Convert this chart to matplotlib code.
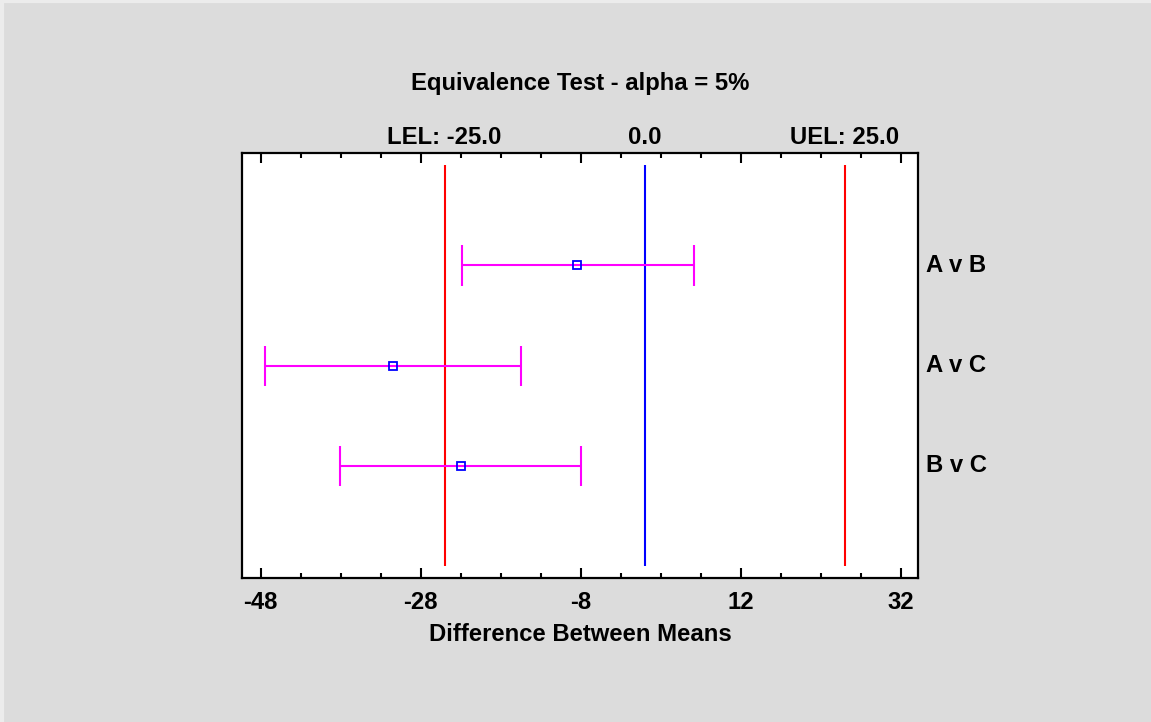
import matplotlib
matplotlib.use("Agg")
import matplotlib.pyplot as plt
import matplotlib.transforms as mtransforms
from matplotlib.ticker import FixedLocator
from matplotlib.lines import Line2D

# ── Data ──────────────────────────────────────────────────────────
comparisons = ["A v B", "A v C", "B v C"]
diff_means  = [-8.4, -31.4, -23.0]
lower_ci    = [-22.8, -47.4, -38.1]
upper_ci    = [6.2, -15.4, -7.9]
LEL, UEL    = -25.0, 25.0
x_ticks     = [-48, -28, -8, 12, 32]

# ── Style ──────────────────────────────────────────────────────────
plt.rcParams.update({
    "font.family": ["Liberation Sans", "DejaVu Sans"],
    "font.weight": "bold",
    "font.size": 17.2,
    "axes.unicode_minus": False,
})
BG      = "#dcdcdc"
RED     = "#ff0000"
BLUE    = "#0000ff"
MAGENTA = "#ff00ff"

fig = plt.figure(figsize=(11.51, 7.22), dpi=100, facecolor=BG)
# thin light frame on top/left edges like the original export
fig.add_artist(Line2D([0, 1], [0.998, 0.998], color="#ececec", lw=3, transform=fig.transFigure))
fig.add_artist(Line2D([0.002, 0.002], [0, 1], color="#ececec", lw=3, transform=fig.transFigure))

ax = fig.add_axes([0.2105, 0.1994, 0.5873, 0.5883])
ax.set_facecolor("white")

n = len(comparisons)
ypos = [n - i for i in range(n)]

# limit lines
ax.vlines([LEL, UEL], 0, n + 1, color=RED, lw=1.5)
ax.vlines(0, 0, n + 1, color=BLUE, lw=1.5)

# intervals
cap = 0.2
for y, m, lo, hi in zip(ypos, diff_means, lower_ci, upper_ci):
    ax.hlines(y, lo, hi, color=MAGENTA, lw=1.5)
    ax.vlines([lo, hi], y - cap, y + cap, color=MAGENTA, lw=1.5)
    ax.plot(m, y, marker="s", ms=5.5, mfc="none", mec=BLUE, mew=1.3, zorder=5)

ax.set_xlim(-50.3, 34.2)
ax.set_ylim(-0.12, n + 1.12)

ax.set_xticks(x_ticks)
ax.xaxis.set_minor_locator(FixedLocator(
    [t for t in range(-48, 35, 5) if t not in x_ticks]))
ax.tick_params(axis="x", which="major", direction="in", length=7, width=1.5,
               top=True, bottom=True, pad=9)
ax.tick_params(axis="x", which="minor", direction="in", length=3.5, width=1.5,
               top=True, bottom=True)
ax.set_yticks([])
for s in ax.spines.values():
    s.set_linewidth(1.6)

ax.set_xlabel("Difference Between Means", fontweight="bold", labelpad=7)

# limit labels above the plot
trans = mtransforms.blended_transform_factory(ax.transData, ax.transAxes)
for xv, lab in [(LEL, f"LEL: {LEL:.1f}"), (0, "0.0"), (UEL, f"UEL: {UEL:.1f}")]:
    ax.text(xv, 1.01, lab, transform=trans, ha="center", va="bottom",
            fontweight="bold")

# comparison labels at right
trans_r = mtransforms.blended_transform_factory(ax.transAxes, ax.transData)
for y, lab in zip(ypos, comparisons):
    ax.text(1.012, y, lab, transform=trans_r, ha="left", va="center",
            fontweight="bold")

fig.text(0.5045, 0.885, "Equivalence Test - alpha = 5%", ha="center",
         va="center", fontweight="bold")

fig.savefig("out.png", dpi=100, facecolor=BG)
